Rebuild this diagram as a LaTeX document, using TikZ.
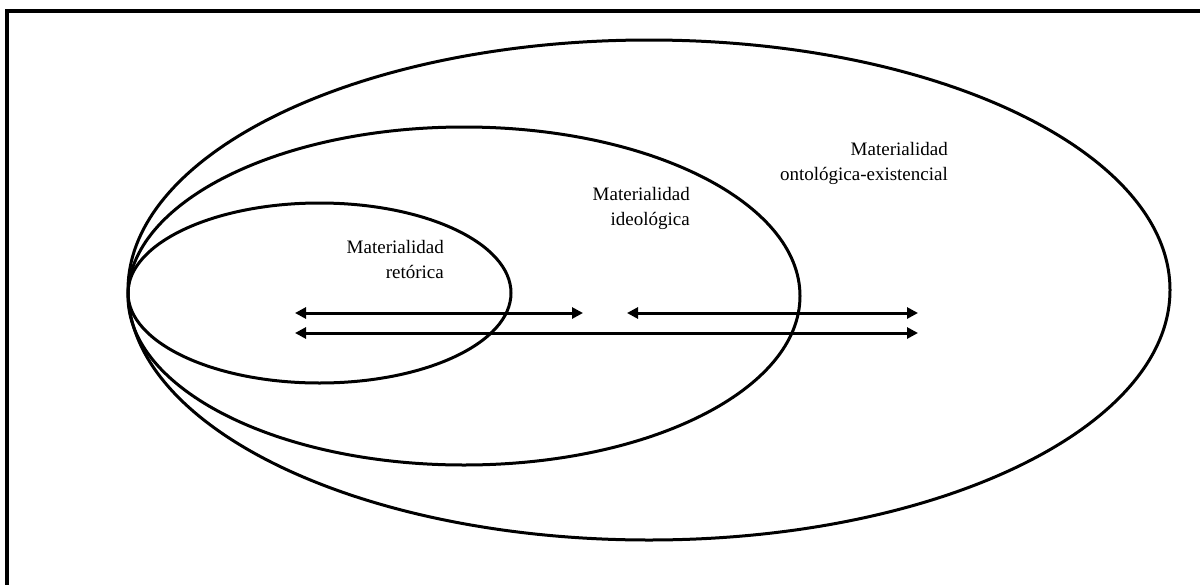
\documentclass[tikz,border=0pt]{standalone}
\usepackage{fontspec}
\setmainfont{Liberation Serif}
\usetikzlibrary{arrows.meta}
\begin{document}
\begin{tikzpicture}[x=1pt,y=-1pt,
  ring/.style={line width=3pt},
  frame/.style={line width=4pt},
  dblarrow/.style={line width=3pt,{Triangle[length=11pt,width=11pt]}-{Triangle[length=11pt,width=11pt]}},
  lbl/.style={font=\fontsize{19}{25}\selectfont,align=right,inner sep=0pt}]
\useasboundingbox (0,0) rectangle (1200,584);
\draw[frame] (7,586) -- (7,11) -- (1202,11);
% ellipses
\draw[ring] (649,290) ellipse [x radius=521,y radius=250];
\draw[ring] (464,296) ellipse [x radius=336,y radius=169];
\draw[ring] (319.5,293) ellipse [x radius=191.5,y radius=90];
% labels
\node[lbl,anchor=east] (ret) at (444,259) {Materialidad\\retórica};
\node[lbl,anchor=east] (ide) at (690,208) {Materialidad\\ideológica};
\node[lbl,anchor=east] (ont) at (948,163) {Materialidad\\ontológica-existencial};
% arrows
\coordinate (a1) at (295,313);
\coordinate (a2) at (583,313);
\coordinate (b1) at (627,313);
\coordinate (b2) at (918,313);
\coordinate (c1) at (295,333);
\coordinate (c2) at (918,333);
\draw[dblarrow] (a1) -- (a2);
\draw[dblarrow] (b1) -- (b2);
\draw[dblarrow] (c1) -- (c2);
\end{tikzpicture}
\end{document}
